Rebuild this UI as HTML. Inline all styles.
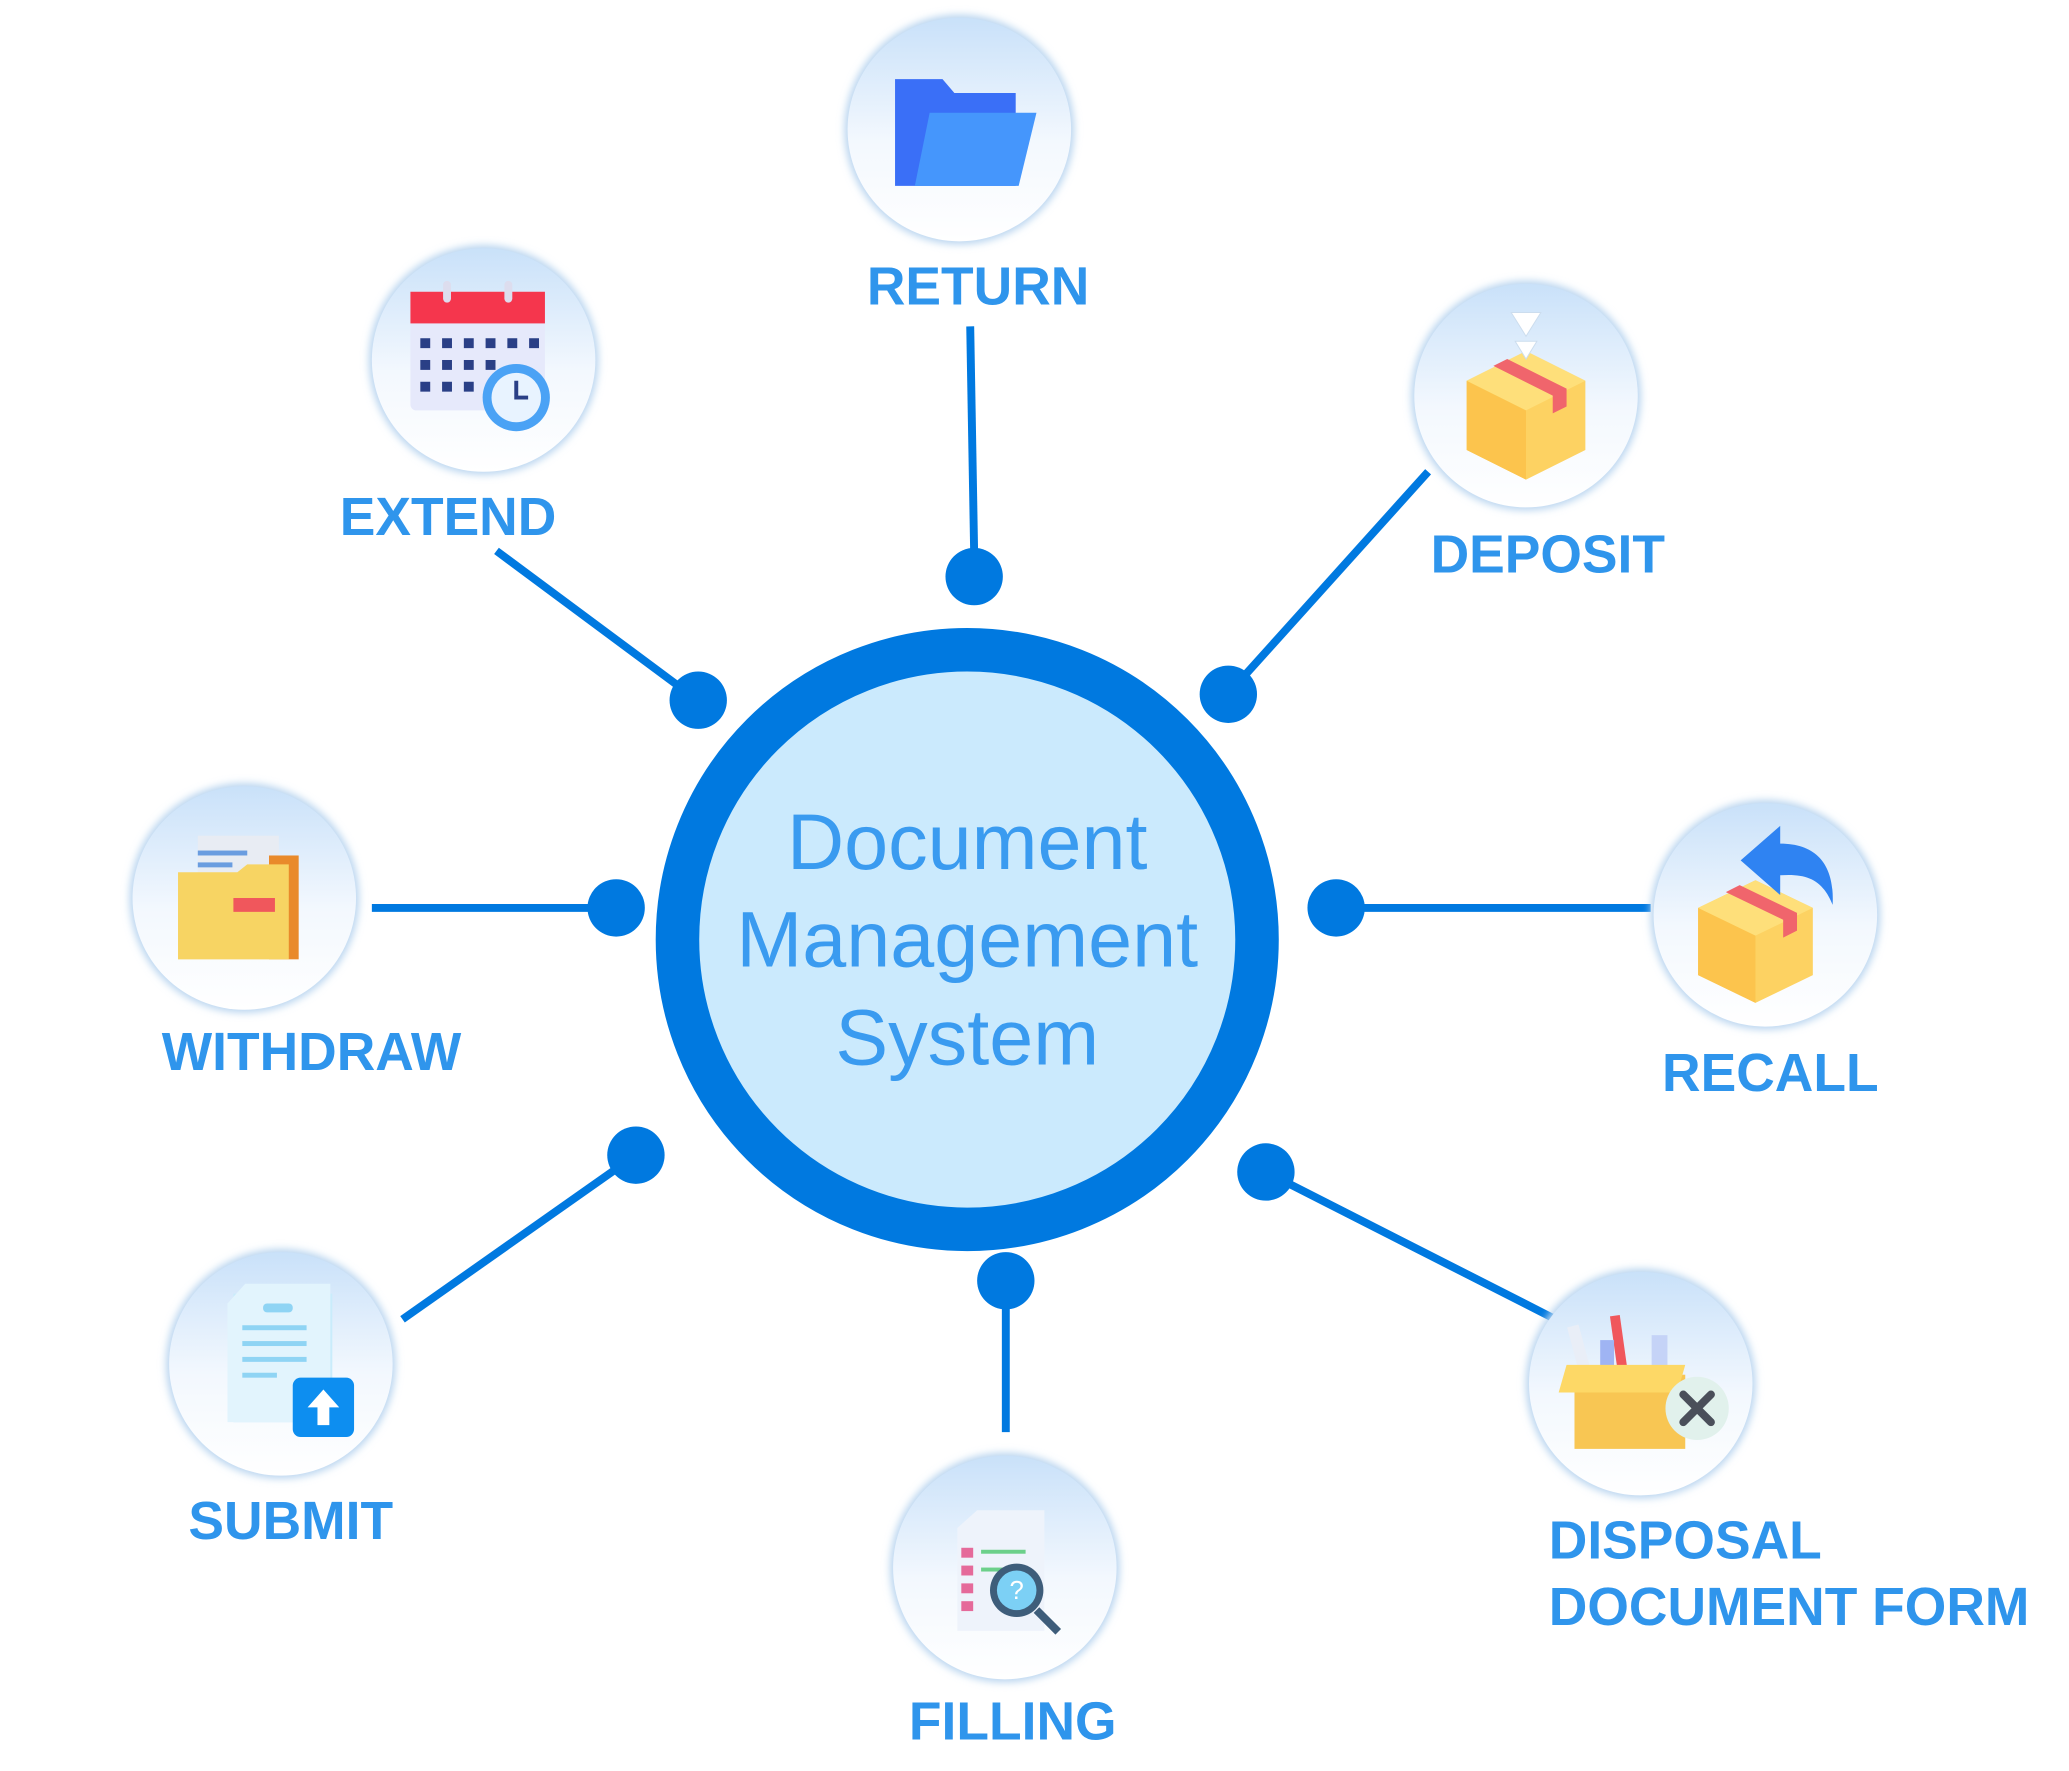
<!DOCTYPE html>
<html><head><meta charset="utf-8"><style>
html,body{margin:0;padding:0;background:#fff;}
body{width:2069px;height:1771px;position:relative;overflow:hidden;font-family:"Liberation Sans",sans-serif;}
#w{position:absolute;left:0;top:0;width:2069px;height:1771px;transform:scale(0.989);transform-origin:0 0;}
.lbl{position:absolute;color:#2f95ec;font-weight:bold;font-size:54px;white-space:nowrap;transform:translate(-50%,-50%);}
</style></head><body><div id="w">
<svg width="2069" height="1771" style="position:absolute;left:0;top:0">
<defs>
<linearGradient id="ng" x1="0" y1="0" x2="0" y2="1">
<stop offset="0" stop-color="#c9e1f9"/><stop offset="0.55" stop-color="#f3f8fe"/><stop offset="1" stop-color="#ffffff"/></linearGradient>
<filter id="sh" x="-30%" y="-30%" width="160%" height="160%"><feGaussianBlur stdDeviation="4"/></filter>
</defs>
<g stroke="#0079e0" stroke-width="8" fill="none">
<line x1="981" y1="330" x2="985" y2="560"/>
<line x1="502" y1="557" x2="700" y2="704"/>
<line x1="1444" y1="477" x2="1245" y2="698"/>
<line x1="376" y1="918" x2="620" y2="918"/>
<line x1="1355" y1="918" x2="1669" y2="918"/>
<line x1="407" y1="1334" x2="640" y2="1170"/>
<line x1="1017" y1="1300" x2="1017" y2="1448"/>
<line x1="1282" y1="1186" x2="1569" y2="1332"/>
</g>
<g fill="#0079e0">
<circle cx="985" cy="583" r="29"/><circle cx="706" cy="708" r="29"/><circle cx="1242" cy="702" r="29"/>
<circle cx="623" cy="918" r="29"/><circle cx="1351" cy="918" r="29"/><circle cx="643" cy="1168" r="29"/>
<circle cx="1017" cy="1295" r="29"/><circle cx="1280" cy="1185" r="29"/>
</g>
<circle cx="978" cy="950" r="293" fill="#cbeafd" stroke="#0079e0" stroke-width="44"/>
<g>
<circle cx="970" cy="131" r="116" fill="#b8d4ef" filter="url(#sh)"/><circle cx="970" cy="131" r="113" fill="url(#ng)"/>
<circle cx="489" cy="364" r="116" fill="#b8d4ef" filter="url(#sh)"/><circle cx="489" cy="364" r="113" fill="url(#ng)"/>
<circle cx="1543" cy="400" r="116" fill="#b8d4ef" filter="url(#sh)"/><circle cx="1543" cy="400" r="113" fill="url(#ng)"/>
<circle cx="247" cy="908" r="116" fill="#b8d4ef" filter="url(#sh)"/><circle cx="247" cy="908" r="113" fill="url(#ng)"/>
<circle cx="1785" cy="925" r="116" fill="#b8d4ef" filter="url(#sh)"/><circle cx="1785" cy="925" r="113" fill="url(#ng)"/>
<circle cx="284" cy="1379" r="116" fill="#b8d4ef" filter="url(#sh)"/><circle cx="284" cy="1379" r="113" fill="url(#ng)"/>
<circle cx="1016" cy="1585" r="116" fill="#b8d4ef" filter="url(#sh)"/><circle cx="1016" cy="1585" r="113" fill="url(#ng)"/>
<circle cx="1659" cy="1399" r="116" fill="#b8d4ef" filter="url(#sh)"/><circle cx="1659" cy="1399" r="113" fill="url(#ng)"/>
</g>
<path d="M905 80 h48 l12 14 h62 v94 h-122 z" fill="#3a6ff7"/>
<path d="M940 114 h108 l-18 74 h-105 z" fill="#4596fc"/>
<rect x="415" y="295" width="136" height="120" rx="6" fill="#e6e9fb"/>
<rect x="415" y="295" width="136" height="32" fill="#f5364d"/>
<rect x="448" y="284" width="8" height="22" rx="4" fill="#dde"/><rect x="510" y="284" width="8" height="22" rx="4" fill="#dde"/>
<g fill="#2a3f86">
<rect x="425" y="342" width="10" height="10"/><rect x="447" y="342" width="10" height="10"/><rect x="469" y="342" width="10" height="10"/><rect x="491" y="342" width="10" height="10"/><rect x="513" y="342" width="10" height="10"/><rect x="535" y="342" width="10" height="10"/>
<rect x="425" y="364" width="10" height="10"/><rect x="447" y="364" width="10" height="10"/><rect x="469" y="364" width="10" height="10"/><rect x="491" y="364" width="10" height="10"/>
<rect x="425" y="386" width="10" height="10"/><rect x="447" y="386" width="10" height="10"/><rect x="469" y="386" width="10" height="10"/>
</g>
<circle cx="522" cy="402" r="34" fill="#4aa2f5"/><circle cx="522" cy="402" r="25" fill="#e8f3ff"/>
<path d="M522 385 v17 h12" stroke="#2a3f86" stroke-width="4" fill="none"/>
<path d="M1543 355 l60 30 v70 l-60 30 l-60 -30 v-70 z" fill="#fdd262"/>
<path d="M1483 385 l60 30 v70 l-60 -30 z" fill="#fcc44d"/>
<path d="M1483 385 l60 -30 l60 30 l-60 30 z" fill="#fedf7a"/>
<path d="M1510 370 l60 30 v18 l14 -7 v-18 l-60 -30 z" fill="#f0656c"/>
<path d="M1528 316 h30 l-15 24 z M1532 345 h22 l-11 18 z" fill="#fff" stroke="#cde" stroke-width="1"/>
<rect x="200" y="845" width="82" height="50" fill="#e8ecf3"/>
<rect x="272" y="865" width="30" height="105" fill="#e98a2b"/>
<path d="M180 882 h60 l10 -8 h42 v96 h-112 z" fill="#f7d463"/>
<rect x="236" y="908" width="42" height="14" fill="#f0575c"/>
<rect x="200" y="860" width="50" height="5" fill="#6a9de0"/><rect x="200" y="872" width="35" height="5" fill="#6a9de0"/>
<path d="M1775 890 l58 28 v68 l-58 28 l-58 -28 v-68 z" fill="#fdd262"/>
<path d="M1717 918 l58 28 v68 l-58 -28 z" fill="#fcc44d"/>
<path d="M1717 918 l58 -28 l58 28 l-58 28 z" fill="#fedf7a"/>
<path d="M1745 902 l58 28 v18 l14 -7 v-18 l-58 -28 z" fill="#f0656c"/>
<path d="M1760 870 l40 -35 v18 c40 0 55 25 53 62 c-10 -25 -25 -32 -53 -30 v20 z" fill="#2f83f2"/>
<rect x="236" y="1308" width="100" height="130" fill="#c9ecfb"/>
<path d="M230 1318 l18 -20 h86 v140 h-104 z" fill="#e2f4fd"/>
<g fill="#8fd4f4"><rect x="245" y="1340" width="65" height="5"/><rect x="245" y="1356" width="65" height="5"/><rect x="245" y="1372" width="65" height="5"/><rect x="245" y="1388" width="35" height="5"/></g>
<rect x="266" y="1318" width="30" height="9" rx="4" fill="#8fd4f4"/>
<rect x="296" y="1393" width="62" height="60" rx="8" fill="#0d8ef0"/>
<path d="M327 1405 l-16 18 h10 v18 h12 v-18 h10 z" fill="#fff"/>
<path d="M968 1545 l20 -18 h68 v122 h-88 z" fill="#eef3fb"/>
<g fill="#e56a9a"><rect x="972" y="1565" width="12" height="10"/><rect x="972" y="1583" width="12" height="10"/><rect x="972" y="1601" width="12" height="10"/><rect x="972" y="1619" width="12" height="10"/></g>
<g fill="#6cd08a"><rect x="992" y="1567" width="45" height="4"/><rect x="992" y="1585" width="35" height="4"/></g>
<circle cx="1028" cy="1608" r="27" fill="#3e5d7a"/><circle cx="1028" cy="1608" r="20" fill="#7cd0f5"/>
<path d="M1048 1628 l22 22" stroke="#3e5d7a" stroke-width="8"/>
<text x="1028" y="1617" font-size="26" fill="#fff" text-anchor="middle" font-family="Liberation Sans">?</text>
<rect x="1590" y="1340" width="12" height="45" fill="#e9eef7" transform="rotate(-15 1596 1362)"/>
<rect x="1632" y="1330" width="10" height="60" fill="#f0575c" transform="rotate(-8 1637 1360)"/>
<rect x="1618" y="1355" width="14" height="40" fill="#9fb4f3"/>
<rect x="1670" y="1350" width="16" height="40" fill="#c5d3f7"/>
<rect x="1592" y="1390" width="112" height="75" fill="#f8c653"/>
<path d="M1584 1380 h120 l-8 28 h-120 z" fill="#fdd866"/>
<circle cx="1716" cy="1424" r="32" fill="#e1f1ec"/>
<path d="M1702 1410 l28 28 M1730 1410 l-28 28" stroke="#4a4f5a" stroke-width="8" stroke-linecap="round"/>
</svg>
<div style="position:absolute;left:978px;top:950px;transform:translate(-50%,-50%);text-align:center;color:#3a9bf0;font-size:80px;line-height:99px;white-space:nowrap;">Document<br>Management<br>System</div>
<div class="lbl" style="left:989px;top:290px">RETURN</div>
<div class="lbl" style="left:453px;top:523px">EXTEND</div>
<div class="lbl" style="left:1565px;top:561px">DEPOSIT</div>
<div class="lbl" style="left:315px;top:1064px">WITHDRAW</div>
<div class="lbl" style="left:1790px;top:1085px">RECALL</div>
<div class="lbl" style="left:294px;top:1538px">SUBMIT</div>
<div class="lbl" style="left:1024px;top:1741px">FILLING</div>
<div class="lbl" style="left:1566px;top:1558px;transform:translate(0,-50%)">DISPOSAL</div>
<div class="lbl" style="left:1566px;top:1625px;transform:translate(0,-50%)">DOCUMENT FORM</div>
</div></body></html>
